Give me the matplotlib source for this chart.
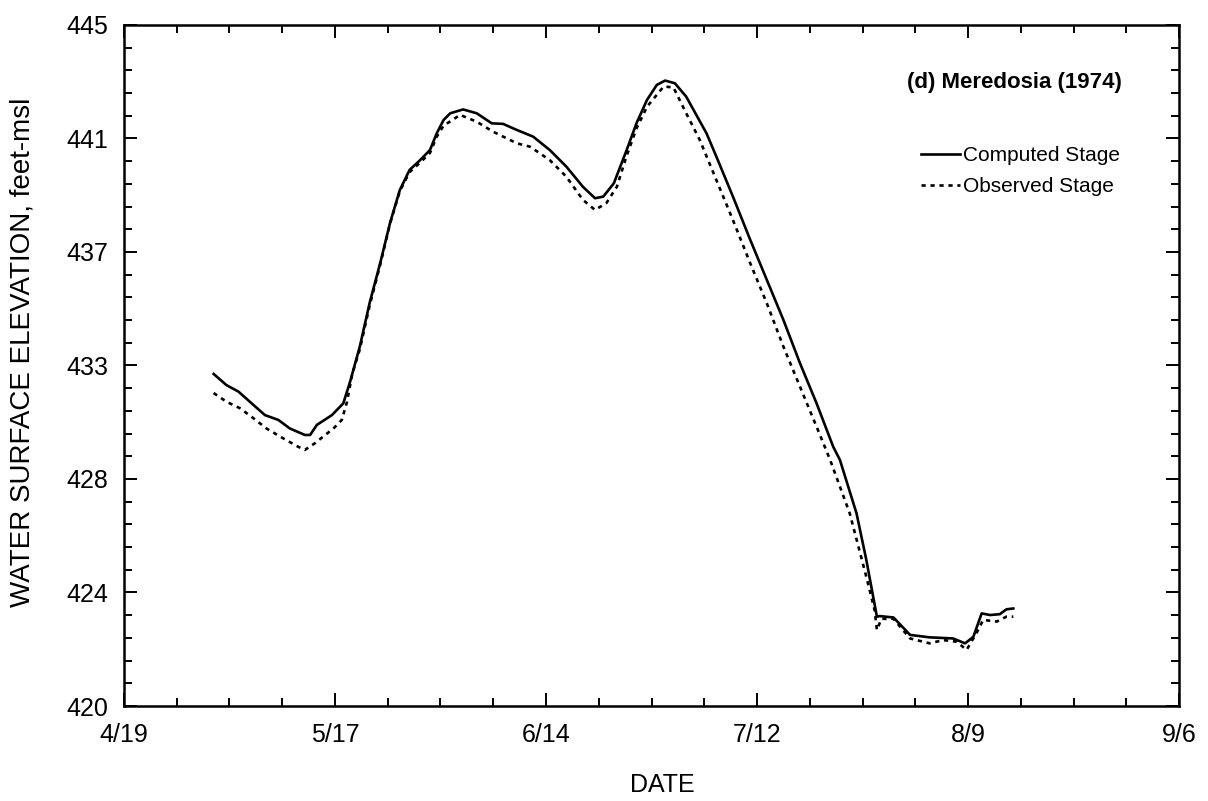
import numpy as np
from matplotlib import pyplot as plt

# days since 4/19 (1974)
comp_day = [11.9, 13.6, 15.2, 16.7, 18.7, 20.5, 22.0, 24.0, 24.7, 25.6,
            27.6, 29.1, 30.0, 31.3, 32.6, 34.0, 35.3, 36.6, 37.9, 39.3,
            40.6, 41.5, 42.4, 43.3, 45.0, 46.8, 48.8, 50.3, 52.1, 54.3,
            56.5, 58.7, 60.9, 62.5, 63.6, 65.0, 66.7, 68.0, 69.4, 70.7,
            71.8, 73.1, 74.6, 77.3, 78.6, 80.8, 83.1, 85.3, 87.5, 89.7,
            91.9, 94.1, 95.0, 97.2, 98.5, 99.9, 100.3, 102.1, 104.3, 106.9,
            110.0, 111.6, 112.7, 113.8, 114.9, 116.2, 117.1, 118.0]
comp_stage = [432.19, 431.78, 431.54, 431.17, 430.68, 430.50, 430.19, 429.95, 429.95, 430.32,
              430.68, 431.11, 431.90, 433.20, 434.80, 436.26, 437.73, 438.94, 439.68, 440.04,
              440.41, 441.02, 441.51, 441.76, 441.90, 441.76, 441.39, 441.37, 441.15, 440.90,
              440.41, 439.80, 439.06, 438.64, 438.70, 439.19, 440.41, 441.39, 442.25, 442.80,
              442.96, 442.86, 442.37, 441.02, 440.17, 438.70, 437.11, 435.64, 434.17, 432.58,
              431.11, 429.52, 429.03, 427.07, 425.36, 423.28, 423.30, 423.25, 422.61, 422.52,
              422.48, 422.30, 422.54, 423.40, 423.34, 423.37, 423.55, 423.58]

obs_day = [11.9, 13.6, 15.4, 17.2, 18.9, 21.1, 23.1, 24.0, 25.3, 27.8,
           28.9, 29.6, 30.3, 31.3, 32.6, 34.0, 35.3, 36.6, 37.9, 39.3,
           40.6, 41.5, 42.4, 44.6, 46.8, 49.0, 52.1, 53.9, 56.5, 58.7,
           60.9, 62.5, 64.0, 65.4, 66.7, 68.0, 69.4, 71.6, 72.9, 74.6,
           76.4, 78.6, 80.8, 83.1, 85.3, 87.5, 89.7, 91.9, 93.7, 96.3,
           98.5, 99.6, 99.9, 100.5, 102.1, 104.3, 106.9, 108.7, 110.5, 111.8,
           113.1, 114.0, 115.8, 117.1, 118.0]
obs_stage = [431.49, 431.17, 430.93, 430.56, 430.19, 429.83, 429.52, 429.40, 429.64, 430.19,
             430.50, 431.17, 432.20, 433.10, 434.70, 436.20, 437.70, 438.90, 439.60, 439.95,
             440.30, 440.90, 441.30, 441.70, 441.45, 441.08, 440.66, 440.53, 440.04, 439.43,
             438.58, 438.21, 438.46, 439.06, 440.20, 441.20, 442.00, 442.74, 442.71, 441.76,
             440.78, 439.31, 437.84, 436.25, 434.78, 433.19, 431.72, 430.25, 429.03, 427.07,
             424.74, 423.52, 422.79, 423.20, 423.20, 422.48, 422.30, 422.42, 422.36, 422.06,
             422.67, 423.16, 423.10, 423.28, 423.28]

x_ticks = [0, 28, 56, 84, 112, 140]
x_labels = ['4/19', '5/17', '6/14', '7/12', '8/9', '9/6']
y_labels = ['420', '424', '428', '433', '437', '441', '445']

plt.rcParams['font.family'] = ['Liberation Sans', 'DejaVu Sans']

fig = plt.figure(figsize=(12.08, 8.01), dpi=100)
ax = fig.add_axes([0.1026, 0.1186, 0.8735, 0.8502])

ax.plot(comp_day, comp_stage, color='black', lw=1.9, label='Computed Stage')
ax.plot(obs_day, obs_stage, color='black', lw=1.9, linestyle=(0, (1.6, 1.8)),
        label='Observed Stage')

ax.set_xlim(0, 140)
ax.set_ylim(420, 445)
ax.set_xticks(x_ticks)
ax.set_xticklabels(x_labels)
ax.set_xticks(np.arange(0, 141, 7), minor=True)
ax.set_yticks(np.linspace(420, 445, 7))
ax.set_yticklabels(y_labels)
ax.set_yticks(np.linspace(420, 445, 31), minor=True)

for s in ax.spines.values():
    s.set_linewidth(1.8)
ax.tick_params(which='both', direction='in', top=True, right=True, width=1.4)
ax.tick_params(which='major', length=9.5, labelsize=18)
ax.tick_params(axis='x', which='major', pad=12)
ax.tick_params(axis='y', which='major', pad=11)
ax.tick_params(which='minor', length=5.5)

ax.set_xlabel('DATE', fontsize=18)
ax.xaxis.set_label_coords(0.51, -0.099)
ax.set_ylabel('WATER SURFACE ELEVATION, feet-msl', fontsize=20)
ax.yaxis.set_label_coords(-0.0834, 0.52)

ax.text(0.946, 0.915, '(d) Meredosia (1974)', transform=ax.transAxes,
        ha='right', va='center', fontsize=16, fontweight='bold')
ax.legend(frameon=False, loc='upper right', bbox_to_anchor=(0.962, 0.85),
          fontsize=15, handlelength=1.9, handletextpad=0.15, labelspacing=0.6)

fig.savefig('out.png', dpi=100)
